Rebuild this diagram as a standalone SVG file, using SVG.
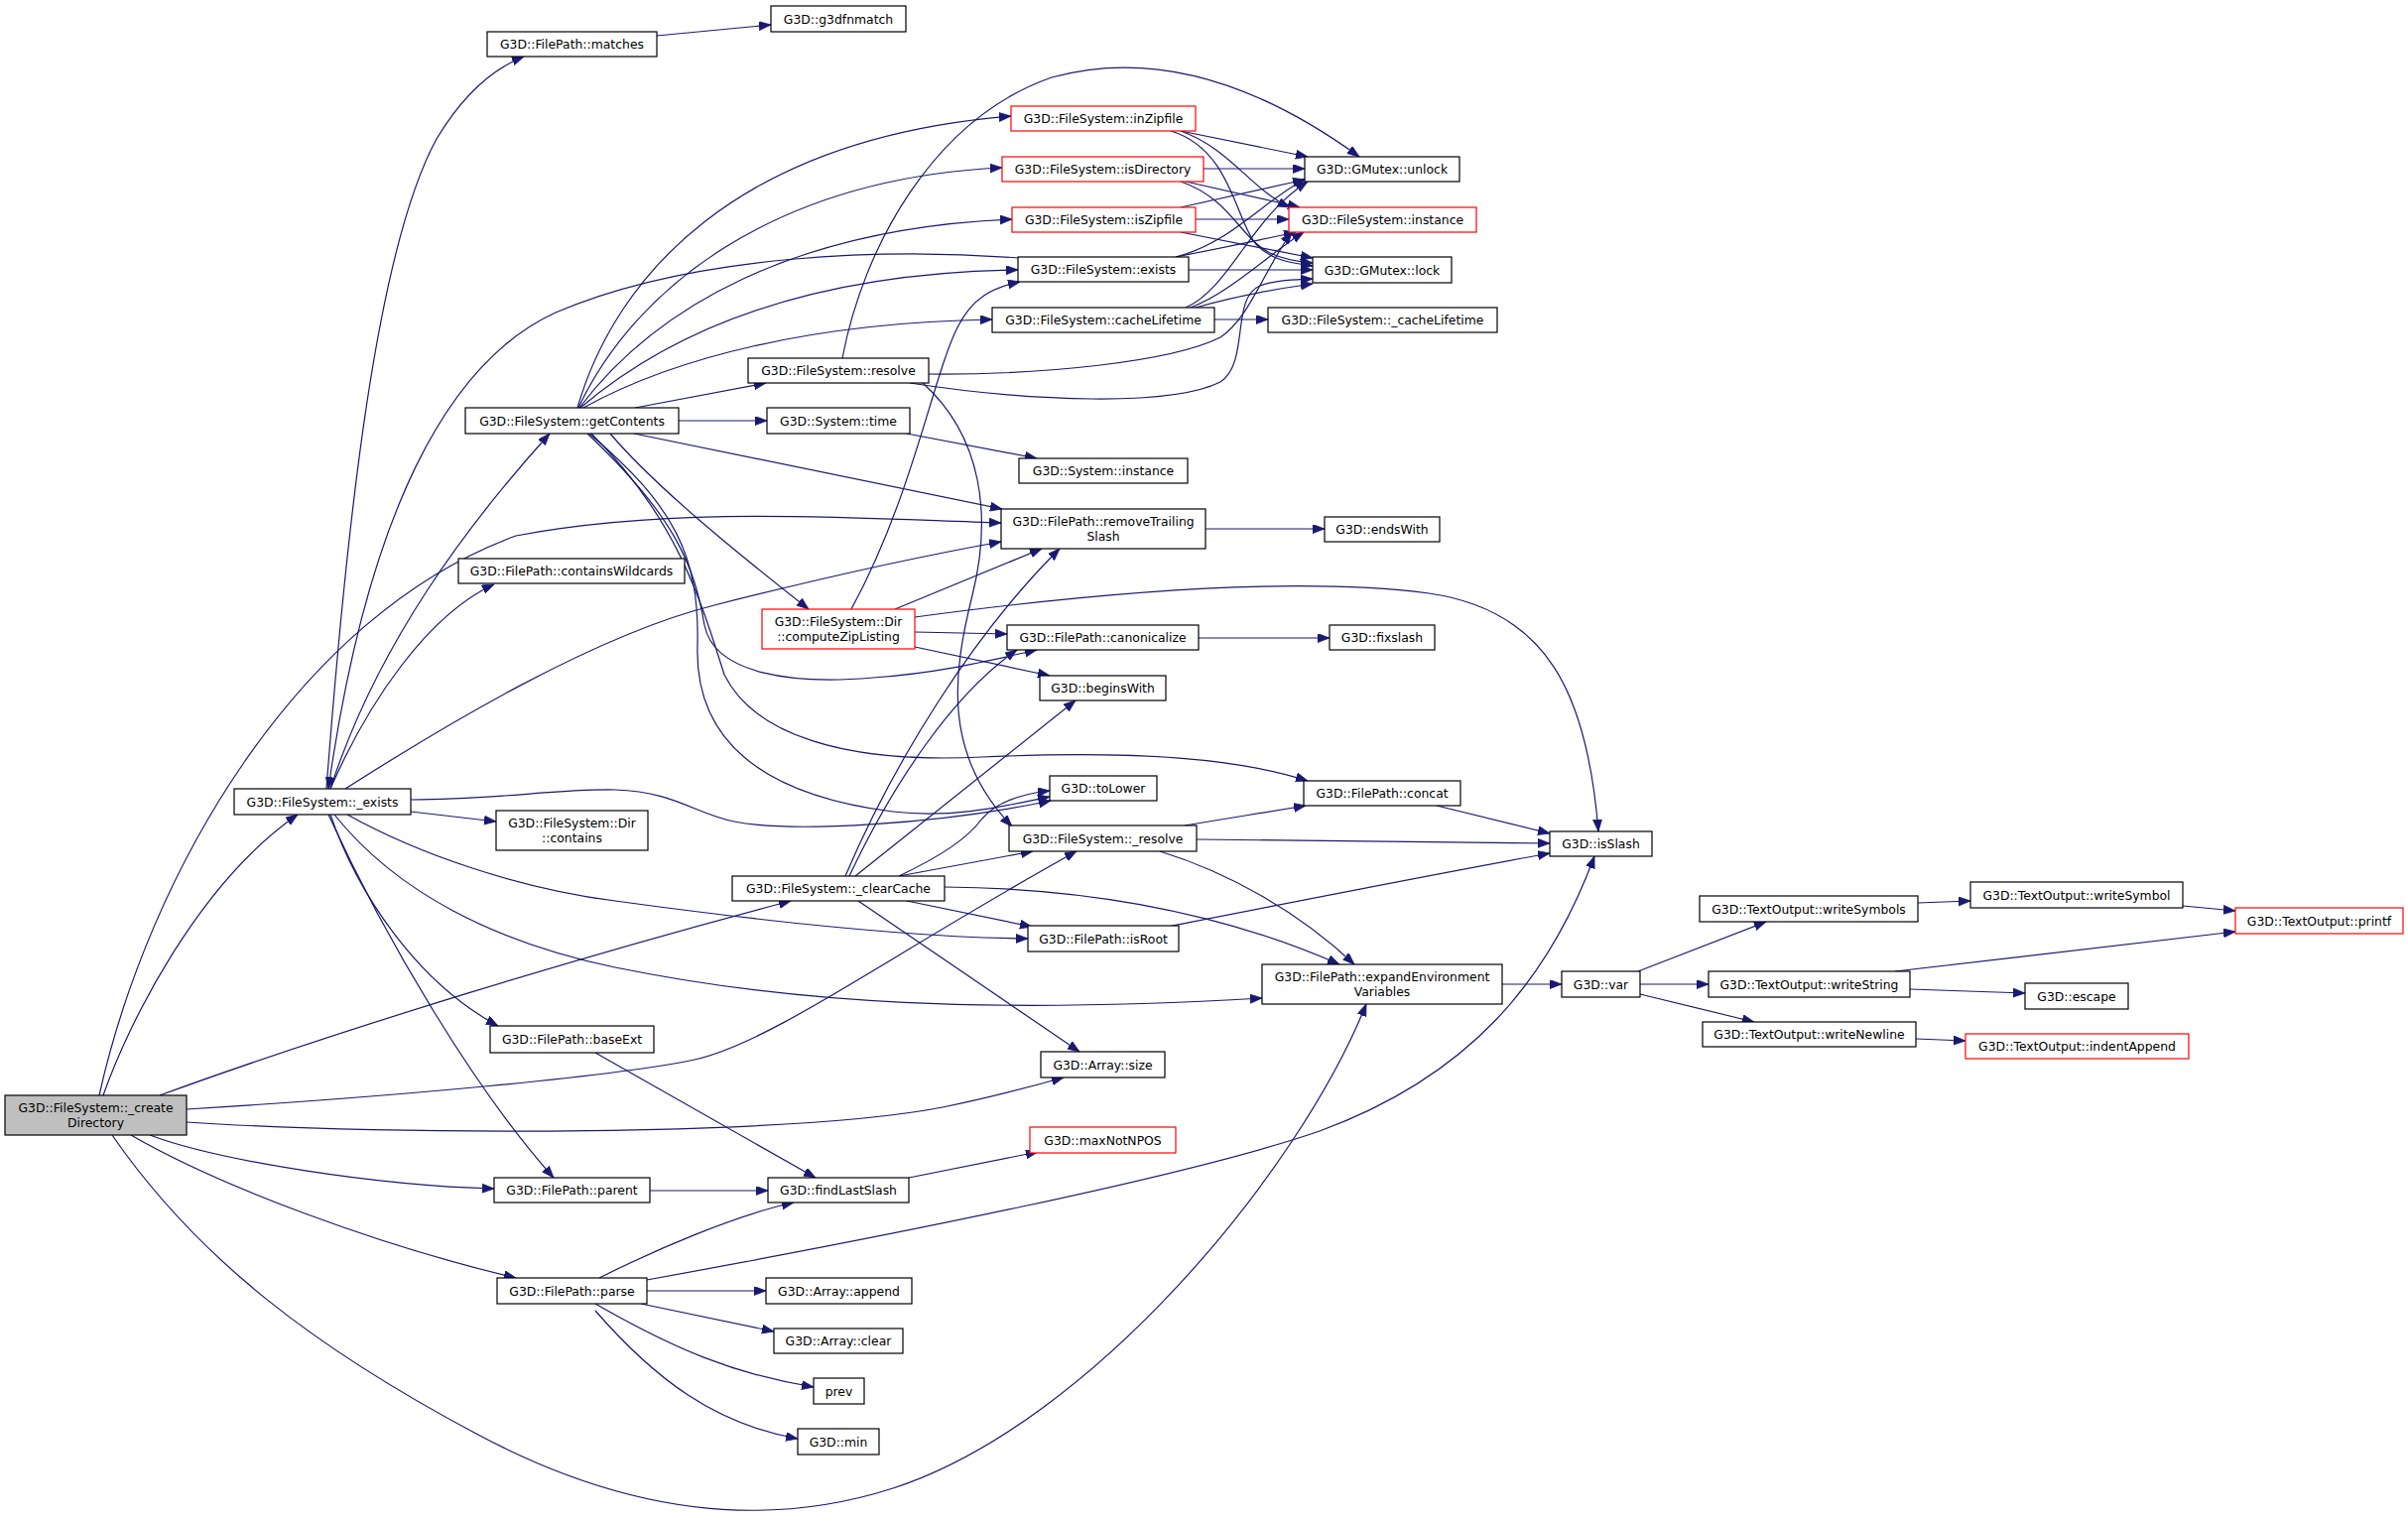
<svg xmlns="http://www.w3.org/2000/svg" width="2427" height="1533" viewBox="0 0 2427 1533">
<style>
.n rect{fill:#fff;stroke:#000;stroke-width:1.2}
.n.r rect{stroke:#f00}
.n.g rect{fill:#bfbfbf}
text{font-family:"DejaVu Sans","Liberation Sans",sans-serif;font-size:12.4px;text-anchor:middle;fill:#000}
#edges path{fill:none;stroke:#191970;stroke-width:1.2;marker-end:url(#a)}
</style>
<defs>
<marker id="a" markerWidth="13" markerHeight="10" refX="12" refY="4.5" orient="auto" markerUnits="userSpaceOnUse"><path d="M0,0 L12,4.5 L0,9 z" fill="#191970" stroke="#191970" stroke-width="0.8"/></marker>
</defs>
<rect width="2427" height="1533" fill="#fff"/>
<g id="edges">
<path d="M662,36 L777,25"/>
<path d="M329,795 C350,520 380,250 440,140 C470,90 500,68 528,57"/>
<path d="M1026,260 C900,250 700,255 560,315 C450,365 370,520 331,795"/>
<path d="M333,795 C380,650 470,530 554,437"/>
<path d="M333,795 C370,710 430,620 498,589"/>
<path d="M348,795 C450,730 600,640 720,610 C830,582 920,562 1009,546"/>
<path d="M414,818 L500,828"/>
<path d="M414,806 C500,806 560,795 620,796 C680,798 700,820 740,828 C800,840 950,830 1059,807"/>
<path d="M350,821 C420,860 520,895 620,908 C780,930 920,945 1036,946"/>
<path d="M337,821 C400,900 500,950 620,975 C800,1012 1000,1022 1272,1006"/>
<path d="M333,821 C360,900 420,990 502,1034"/>
<path d="M331,821 C390,950 480,1100 558,1187"/>
<path d="M104,1104 C130,1030 200,890 300,821"/>
<path d="M100,1104 C150,880 300,620 520,540 C680,510 850,522 1009,527"/>
<path d="M161,1104 C350,1035 600,960 797,908"/>
<path d="M188,1118 C400,1105 620,1085 700,1068 C780,1050 900,960 1085,858"/>
<path d="M188,1131 C400,1145 800,1145 950,1116 C1000,1106 1040,1095 1072,1086"/>
<path d="M151,1144 C220,1170 380,1195 498,1198"/>
<path d="M132,1144 C220,1195 380,1255 520,1288"/>
<path d="M113,1144 C200,1270 320,1360 480,1445 C620,1520 760,1545 900,1500 C1100,1435 1310,1180 1377,1012"/>
<path d="M582,411 C620,280 740,140 1019,117"/>
<path d="M583,411 C640,290 780,180 1010,169"/>
<path d="M584,411 C660,310 800,230 1020,221"/>
<path d="M585,411 C680,330 820,275 1026,272"/>
<path d="M588,411 C680,360 820,325 1000,322"/>
<path d="M640,411 L772,386"/>
<path d="M684,424 L773,424"/>
<path d="M639,437 L1010,513"/>
<path d="M615,437 C660,490 740,555 815,614"/>
<path d="M592,437 C680,520 700,570 710,630 C720,680 800,690 880,683 C950,678 1000,665 1045,655"/>
<path d="M594,437 C680,510 705,560 703,650 C700,740 760,800 900,818 C960,825 1010,813 1058,803"/>
<path d="M596,437 C680,520 705,600 730,680 C760,740 850,770 990,763 C1150,756 1250,765 1318,787"/>
<path d="M849,361 C870,250 940,120 1060,78 C1180,45 1290,100 1370,158"/>
<path d="M936,377 C1050,378 1180,365 1230,340 C1260,320 1275,270 1302,234"/>
<path d="M917,386 C1040,405 1180,410 1230,385 C1260,365 1240,300 1270,288 C1285,282 1305,282 1323,281"/>
<path d="M930,386 C990,440 1000,520 980,600 C960,680 950,760 1020,833"/>
<path d="M858,614 C920,500 940,380 965,330 C980,300 1000,290 1028,284"/>
<path d="M902,614 L1050,553"/>
<path d="M922,622 C1100,598 1300,580 1440,598 C1560,615 1600,700 1611,838"/>
<path d="M922,637 L1015,639"/>
<path d="M922,652 L1058,681"/>
<path d="M852,883 C900,770 980,640 1068,553"/>
<path d="M856,883 C900,790 960,700 1025,655"/>
<path d="M862,883 L1084,706"/>
<path d="M906,883 C950,862 975,845 990,825 C1005,808 1030,800 1058,797"/>
<path d="M906,883 L1041,858"/>
<path d="M952,894 C1080,895 1220,915 1350,972"/>
<path d="M914,908 L1040,934"/>
<path d="M865,908 L1088,1060"/>
<path d="M1194,832 C1230,826 1280,818 1316,812"/>
<path d="M1206,846 L1562,850"/>
<path d="M1169,858 C1240,880 1310,920 1365,972"/>
<path d="M1181,933 C1300,910 1450,880 1562,860"/>
<path d="M1448,812 L1562,840"/>
<path d="M652,1290 C900,1245 1200,1185 1330,1140 C1480,1085 1560,990 1607,863"/>
<path d="M604,1288 C660,1260 740,1225 800,1212"/>
<path d="M652,1301 L772,1301"/>
<path d="M646,1314 L780,1342"/>
<path d="M600,1314 C680,1360 740,1385 820,1398"/>
<path d="M600,1321 C660,1390 720,1435 804,1450"/>
<path d="M655,1200 L774,1200"/>
<path d="M600,1061 L822,1187"/>
<path d="M916,1187 L1046,1161"/>
<path d="M1514,992 L1574,992"/>
<path d="M1651,979 L1780,929"/>
<path d="M1653,992 L1722,992"/>
<path d="M1653,1002 L1768,1030"/>
<path d="M1933,910 L1986,908"/>
<path d="M2200,913 L2253,918"/>
<path d="M1910,979 L2253,939"/>
<path d="M1925,997 L2041,1001"/>
<path d="M1931,1047 L1981,1049"/>
<path d="M914,437 L1045,462"/>
<path d="M1215,533 L1335,533"/>
<path d="M1208,643 L1340,643"/>
<path d="M1224,322 L1278,322"/>
<path d="M1195,310 C1240,290 1260,220 1318,183"/>
<path d="M1200,310 C1240,295 1280,255 1314,234"/>
<path d="M1205,310 C1240,300 1280,292 1323,286"/>
<path d="M1190,132 L1318,158"/>
<path d="M1190,132 C1240,150 1260,190 1300,209"/>
<path d="M1180,132 C1240,150 1245,220 1265,245 C1280,262 1300,265 1323,268"/>
<path d="M1213,170 L1315,170"/>
<path d="M1195,183 L1310,209"/>
<path d="M1190,183 C1240,200 1250,240 1280,255 C1295,262 1310,264 1323,265"/>
<path d="M1205,221 L1299,221"/>
<path d="M1190,209 L1315,181"/>
<path d="M1190,234 L1323,260"/>
<path d="M1198,272 L1323,272"/>
<path d="M1185,259 C1240,245 1270,205 1316,180"/>
<path d="M1185,259 C1230,250 1270,242 1306,234"/>
</g>
<g id="CD" class="n g"><rect x="5" y="1104" width="183" height="40"/><text x="96.5" y="1121">G3D::FileSystem::_create</text><text x="96.5" y="1136">Directory</text></g>
<g id="EX" class="n"><rect x="236" y="795" width="178" height="26"/><text x="325" y="812.5">G3D::FileSystem::_exists</text></g>
<g id="MA" class="n"><rect x="491" y="32" width="171" height="25"/><text x="576.5" y="49">G3D::FilePath::matches</text></g>
<g id="GF" class="n"><rect x="777" y="6" width="136" height="26"/><text x="845" y="23.5">G3D::g3dfnmatch</text></g>
<g id="GC" class="n"><rect x="469" y="411" width="215" height="26"/><text x="576.5" y="428.5">G3D::FileSystem::getContents</text></g>
<g id="CW" class="n"><rect x="462" y="563" width="228" height="25"/><text x="576" y="580">G3D::FilePath::containsWildcards</text></g>
<g id="DC" class="n"><rect x="500" y="817" width="153" height="40"/><text x="576.5" y="834">G3D::FileSystem::Dir</text><text x="576.5" y="849">::contains</text></g>
<g id="BE" class="n"><rect x="494" y="1034" width="165" height="27"/><text x="576.5" y="1052">G3D::FilePath::baseExt</text></g>
<g id="PA" class="n"><rect x="498" y="1187" width="157" height="25"/><text x="576.5" y="1204">G3D::FilePath::parent</text></g>
<g id="PS" class="n"><rect x="501" y="1288" width="151" height="26"/><text x="576.5" y="1305.5">G3D::FilePath::parse</text></g>
<g id="IZ" class="n r"><rect x="1019" y="107" width="186" height="25"/><text x="1112" y="124">G3D::FileSystem::inZipfile</text></g>
<g id="ID" class="n r"><rect x="1010" y="158" width="203" height="25"/><text x="1111.5" y="175">G3D::FileSystem::isDirectory</text></g>
<g id="IZF" class="n r"><rect x="1020" y="209" width="185" height="25"/><text x="1112.5" y="226">G3D::FileSystem::isZipfile</text></g>
<g id="FE" class="n"><rect x="1026" y="259" width="172" height="25"/><text x="1112" y="276">G3D::FileSystem::exists</text></g>
<g id="CL" class="n"><rect x="1000" y="310" width="224" height="25"/><text x="1112" y="327">G3D::FileSystem::cacheLifetime</text></g>
<g id="RS" class="n"><rect x="754" y="361" width="182" height="25"/><text x="845" y="378">G3D::FileSystem::resolve</text></g>
<g id="ST" class="n"><rect x="773" y="411" width="144" height="26"/><text x="845" y="428.5">G3D::System::time</text></g>
<g id="SI" class="n"><rect x="1027" y="462" width="170" height="25"/><text x="1112" y="479">G3D::System::instance</text></g>
<g id="RTS" class="n"><rect x="1009" y="513" width="206" height="40"/><text x="1112" y="530">G3D::FilePath::removeTrailing</text><text x="1112" y="545">Slash</text></g>
<g id="CZ" class="n r"><rect x="768" y="614" width="154" height="40"/><text x="845" y="631">G3D::FileSystem::Dir</text><text x="845" y="646">::computeZipListing</text></g>
<g id="CA" class="n"><rect x="1015" y="630" width="193" height="25"/><text x="1111.5" y="647">G3D::FilePath::canonicalize</text></g>
<g id="BW" class="n"><rect x="1048" y="681" width="127" height="25"/><text x="1111.5" y="698">G3D::beginsWith</text></g>
<g id="TL" class="n"><rect x="1058" y="782" width="108" height="25"/><text x="1112" y="799">G3D::toLower</text></g>
<g id="RV" class="n"><rect x="1017" y="832" width="189" height="26"/><text x="1111.5" y="849.5">G3D::FileSystem::_resolve</text></g>
<g id="CC" class="n"><rect x="738" y="883" width="214" height="25"/><text x="845" y="900">G3D::FileSystem::_clearCache</text></g>
<g id="IR" class="n"><rect x="1036" y="933" width="152" height="26"/><text x="1112" y="950.5">G3D::FilePath::isRoot</text></g>
<g id="AS" class="n"><rect x="1049" y="1060" width="125" height="26"/><text x="1111.5" y="1077.5">G3D::Array::size</text></g>
<g id="MN" class="n r"><rect x="1038" y="1136" width="147" height="26"/><text x="1111.5" y="1153.5">G3D::maxNotNPOS</text></g>
<g id="FL" class="n"><rect x="774" y="1187" width="142" height="25"/><text x="845" y="1204">G3D::findLastSlash</text></g>
<g id="AA" class="n"><rect x="772" y="1288" width="147" height="26"/><text x="845.5" y="1305.5">G3D::Array::append</text></g>
<g id="AC" class="n"><rect x="780" y="1339" width="130" height="25"/><text x="845" y="1356">G3D::Array::clear</text></g>
<g id="PR" class="n"><rect x="820" y="1389" width="51" height="26"/><text x="845.5" y="1406.5">prev</text></g>
<g id="MI" class="n"><rect x="804" y="1440" width="82" height="26"/><text x="845" y="1457.5">G3D::min</text></g>
<g id="UN" class="n"><rect x="1315" y="158" width="156" height="25"/><text x="1393" y="175">G3D::GMutex::unlock</text></g>
<g id="FI" class="n r"><rect x="1299" y="209" width="189" height="25"/><text x="1393.5" y="226">G3D::FileSystem::instance</text></g>
<g id="LO" class="n"><rect x="1323" y="259" width="140" height="26"/><text x="1393" y="276.5">G3D::GMutex::lock</text></g>
<g id="CLT" class="n"><rect x="1278" y="310" width="231" height="25"/><text x="1393.5" y="327">G3D::FileSystem::_cacheLifetime</text></g>
<g id="EW" class="n"><rect x="1335" y="521" width="116" height="25"/><text x="1393" y="538">G3D::endsWith</text></g>
<g id="FS" class="n"><rect x="1340" y="630" width="106" height="25"/><text x="1393" y="647">G3D::fixslash</text></g>
<g id="CO" class="n"><rect x="1314" y="787" width="158" height="25"/><text x="1393" y="804">G3D::FilePath::concat</text></g>
<g id="EV" class="n"><rect x="1272" y="972" width="242" height="40"/><text x="1393" y="989">G3D::FilePath::expandEnvironment</text><text x="1393" y="1004">Variables</text></g>
<g id="SL" class="n"><rect x="1562" y="838" width="103" height="25"/><text x="1613.5" y="855">G3D::isSlash</text></g>
<g id="VA" class="n"><rect x="1574" y="979" width="79" height="26"/><text x="1613.5" y="996.5">G3D::var</text></g>
<g id="WSS" class="n"><rect x="1713" y="903" width="220" height="26"/><text x="1823" y="920.5">G3D::TextOutput::writeSymbols</text></g>
<g id="WS1" class="n"><rect x="1986" y="889" width="214" height="26"/><text x="2093" y="906.5">G3D::TextOutput::writeSymbol</text></g>
<g id="PF" class="n r"><rect x="2253" y="915" width="169" height="26"/><text x="2337.5" y="932.5">G3D::TextOutput::printf</text></g>
<g id="WST" class="n"><rect x="1722" y="979" width="203" height="26"/><text x="1823.5" y="996.5">G3D::TextOutput::writeString</text></g>
<g id="ES" class="n"><rect x="2041" y="991" width="104" height="26"/><text x="2093" y="1008.5">G3D::escape</text></g>
<g id="WN" class="n"><rect x="1716" y="1030" width="215" height="25"/><text x="1823.5" y="1047">G3D::TextOutput::writeNewline</text></g>
<g id="IA" class="n r"><rect x="1981" y="1042" width="225" height="25"/><text x="2093.5" y="1059">G3D::TextOutput::indentAppend</text></g>
</svg>
